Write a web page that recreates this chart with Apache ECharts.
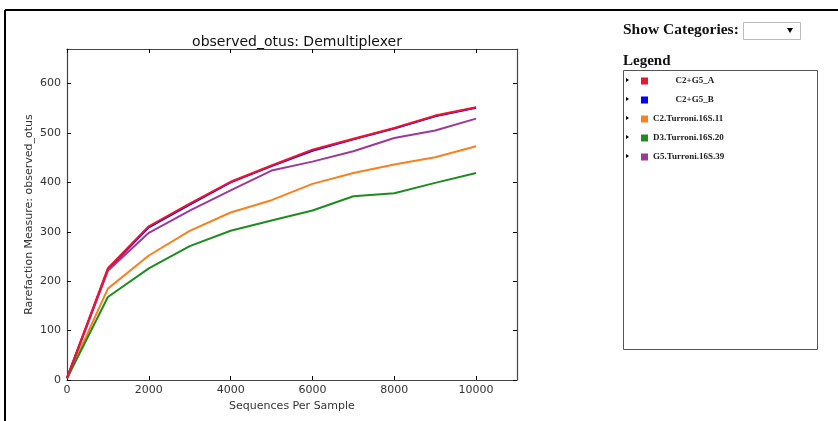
<!DOCTYPE html>
<html lang="en">
<head>
    <meta charset="UTF-8">
    <title>observed_otus</title>
    <script src="https://cdn.jsdelivr.net/npm/echarts@6/dist/echarts.min.js"></script>
    <style>
        html, body { margin: 0; padding: 0; background: #fff; }
    </style>
</head>
<body>
    <div id="main" style="width: 838px;height: 421px"></div>
    <script>
        // sequences per sample (x)
        var depths = [0, 1000, 2000, 3000, 4000, 5000, 6000, 7000, 8000, 9000, 10000];
        var names = ['C2+G5_A', 'C2+G5_B', 'C2.Turroni.16S.11', 'D3.Turroni.16S.20', 'G5.Turroni.16S.39'];
        var colors = ['#ec1530', '#0000ff', '#f5821f', '#1e8c1e', '#9a3a9a'];
        // observed otus per sample
        var sampleA = [4, 226, 311, 357, 401, 434, 466, 488, 510, 535, 552];
        var sampleB = [4, 224, 309, 355, 400, 433, 464, 487, 509, 534, 551];
        var turroni11 = [3, 185, 252, 302, 339, 364, 397, 419, 436, 451, 473];
        var turroni20 = [3, 168, 226, 271, 302, 323, 343, 372, 378, 399, 419];
        var turroni39 = [4, 221, 298, 343, 384, 424, 442, 463, 490, 505, 529];
        var xTicks = [0, 2000, 4000, 6000, 8000, 10000];
        var yTicks = [0, 100, 200, 300, 400, 500, 600];

        var allData = [sampleB, turroni11, turroni20, turroni39, sampleA];
        var order = [1, 2, 3, 4, 0];

        var mCharts = echarts.init(document.getElementById('main'));
        var series = order.map(function (k, i) {
            return {
                name: names[k],
                type: 'line',
                showSymbol: false,
                symbol: 'none',
                z: 2 + i,
                lineStyle: { width: k === 0 ? 2.2 : 2, color: colors[k] },
                itemStyle: { color: colors[k] },
                data: allData[i].map(function (v, j) { return [depths[j], v]; })
            };
        });

        var tickFont = { fontFamily: 'DejaVu Sans', fontSize: 11, color: '#333' };
        var lineCol = '#444';
        function xAxisDef(pos, labels) {
            return {
                type: 'value', position: pos, min: 0, max: 11000,
                axisLine: { show: true, onZero: false, lineStyle: { color: lineCol, width: 1.2 } },
                axisTick: { show: true, inside: true, length: 4, customValues: xTicks, lineStyle: { color: '#000' } },
                axisLabel: labels ? Object.assign({
                    margin: 5, customValues: xTicks,
                    formatter: function (v) { return String(v); }
                }, tickFont) : { show: false },
                splitLine: { show: false }
            };
        }
        function yAxisDef(pos, labels) {
            return {
                type: 'value', position: pos, min: 0, max: 670,
                axisLine: { show: true, onZero: false, lineStyle: { color: lineCol, width: 1.2 } },
                axisTick: { show: true, inside: true, length: 4, customValues: yTicks, lineStyle: { color: '#000' } },
                axisLabel: labels ? Object.assign({
                    margin: 6, customValues: yTicks,
                    formatter: function (v) { return String(v); }
                }, tickFont) : { show: false },
                splitLine: { show: false }
            };
        }
        var xb = xAxisDef('bottom', true);
        xb.name = 'Sequences Per Sample';
        xb.nameLocation = 'middle';
        xb.nameGap = 21;
        xb.nameMoveOverlap = false;
        xb.nameTextStyle = tickFont;
        var yl = yAxisDef('left', true);
        yl.name = 'Rarefaction Measure: observed_otus';
        yl.nameLocation = 'middle';
        yl.nameGap = 32;
        yl.nameMoveOverlap = false;
        yl.nameTextStyle = tickFont;

        var arrows = [80, 99, 118, 137, 156].map(function (y) {
            return { type: 'polygon', shape: { points: [[626, y - 2], [626, y + 2], [629, y]] }, style: { fill: '#000' } };
        });

        var option = {
            animation: false,
            title: {
                text: 'observed_otus: Demultiplexer',
                left: 292, top: 30, textAlign: 'center',
                textStyle: { fontFamily: 'DejaVu Sans', fontSize: 14, fontWeight: 'normal', color: '#111' }
            },
            grid: { left: 67, right: 321, top: 49, bottom: 41 },
            xAxis: [xb, xAxisDef('top', false)],
            yAxis: [yl, yAxisDef('right', false)],
            legend: {
                orient: 'vertical', left: 636, top: 71,
                itemWidth: 7, itemHeight: 7, itemGap: 9, icon: 'rect',
                data: names,
                formatter: function (n) { return n.indexOf('C2+') === 0 ? '          ' + n : n; },
                textStyle: { fontFamily: 'Liberation Serif', fontSize: 9, lineHeight: 10, fontWeight: 'bold', color: '#222' }
            },
            graphic: [
                // outer frame
                { type: 'line', shape: { x1: 5, y1: 10, x2: 838, y2: 10 }, style: { stroke: '#000', lineWidth: 2 } },
                { type: 'line', shape: { x1: 5, y1: 10, x2: 5, y2: 421 }, style: { stroke: '#000', lineWidth: 2 } },
                { type: 'text', left: 623, top: 22, style: { text: 'Show Categories:', font: 'bold 15.5px "Liberation Serif"', fill: '#111' } },
                { type: 'rect', shape: { x: 743.5, y: 22.5, width: 57, height: 17 }, style: { fill: '#fff', stroke: '#bbb', lineWidth: 1 } },
                { type: 'polygon', shape: { points: [[787, 28], [793, 28], [790, 33]] }, style: { fill: '#000' } },
                { type: 'text', left: 623, top: 54, style: { text: 'Legend', font: 'bold 15px "Liberation Serif"', fill: '#111' } },
                { type: 'rect', shape: { x: 623.5, y: 70.5, width: 194, height: 279 }, style: { fill: 'none', stroke: '#555', lineWidth: 1 } }
            ].concat(arrows),
            series: series
        };
        mCharts.setOption(option);
    </script>
</body>
</html>
